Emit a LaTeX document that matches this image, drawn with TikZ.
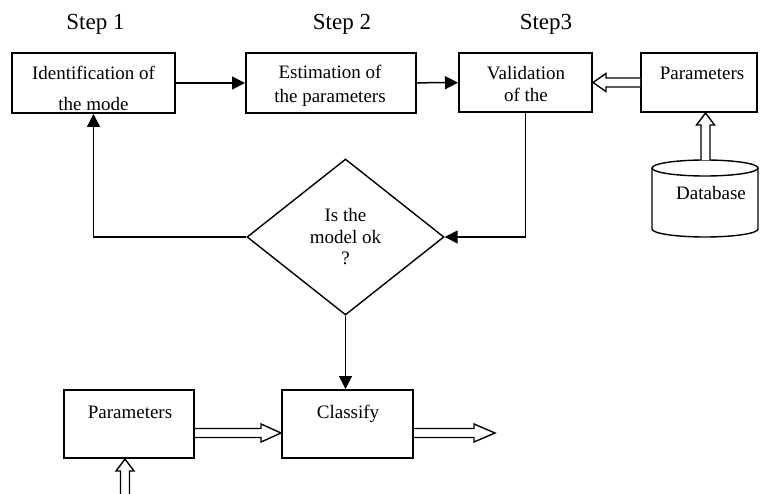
\documentclass[tikz,border=0pt]{standalone}
\usepackage{fontspec}
\setmainfont{Liberation Serif}
\usetikzlibrary{arrows.meta,shapes.geometric,calc}

% Hollow block arrow from #2 (tail) to #3 (tip); #1 = head length
\newcommand\blockarrow[3][14pt]{%
  \coordinate (ba-h) at ($(#3)!#1!(#2)$);
  \draw[hollow] ($(#2)!4.5pt!90:(#3)$) -- ($(ba-h)!4.5pt!90:(#3)$)
    -- ($(ba-h)!9pt!90:(#3)$) -- (#3) -- ($(ba-h)!9pt!-90:(#3)$)
    -- ($(ba-h)!4.5pt!-90:(#3)$) -- ($(#2)!4.5pt!-90:(#3)$);
}

\begin{document}
\begin{tikzpicture}[x=1pt,y=-1pt,
  box/.style={draw, line width=2pt, inner sep=0pt},
  txt/.style={font=\fontsize{19}{22}\selectfont, align=center, anchor=base, inner sep=0pt},
  flow/.style={line width=1.5pt, -{Triangle[length=13pt,width=13pt]}},
  hollow/.style={line width=1.4pt, fill=white, line join=miter},
  steplabel/.style={font=\fontsize{23}{27}\selectfont, anchor=base, inner sep=0pt}]

\useasboundingbox (0,0) rectangle (762,494);

% step headings
\node[steplabel] (s1) at (95.5,30) {Step 1};
\node[steplabel] (s2) at (342,30) {Step 2};
\node[steplabel] (s3) at (546,30) {Step3};

% top row of boxes
\node[box, minimum width=163pt, minimum height=60pt] (b1) at (93.5,83) {};
\node[box, minimum width=170pt, minimum height=60pt] (b2) at (331,83) {};
\node[box, minimum width=133pt, minimum height=59pt] (b3) at (525.5,82.5) {};
\node[box, minimum width=116pt, minimum height=59pt] (b4) at (699,82.5) {};

% multi-line labels are placed by the baseline of their last line
\node[txt, font=\fontsize{19}{31}\selectfont] (t1) at (93.5,111) {Identification of\\the mode};
\node[txt, font=\fontsize{19}{24}\selectfont] (t2) at (330,103) {Estimation of\\the parameters};
\node[txt] (t3) at (526,102) {Validation\\of the};
\node[txt] (t4) at (702,80) {Parameters};

% database cylinder
\draw[line width=1.4pt] (705,168) ellipse [x radius=53pt, y radius=8pt];
\draw[line width=1.4pt] (652,168) -- (652,229)
  arc[start angle=180, end angle=360, x radius=53pt, y radius=8pt] -- (758,168);
\node[txt] (t5) at (711,200) {Database};
\coordinate (db) at (705.5,160);

% decision
\node[diamond, draw, line width=1.4pt, minimum width=197pt, minimum height=156pt,
  aspect=1.26, inner sep=0pt, align=center, font=\fontsize{19}{21.5}\selectfont]
  (d) at (345.5,237) {Is the\\model ok\\?};

% bottom row
\node[box, minimum width=130pt, minimum height=68pt] (p2) at (129,424) {};
\node[box, minimum width=131pt, minimum height=68pt] (cl) at (347.5,424) {};
\node[txt] (t6) at (130,418) {Parameters};
\node[txt] (t7) at (348,418) {Classify};

% solid connectors
\draw[flow] (b1) -- (b2);
\draw[flow] (b2) -- (b3);
\draw[flow] (b3.south) |- (d.east);
\draw[flow] (d.west) -| (b1.south);
\draw[flow] (d.south) -- (d.south |- cl.north);

% hollow connectors
\blockarrow[13pt]{b4.west}{b3.east}
\blockarrow[12pt]{db}{db |- b4.south}
\coordinate (lvl) at (0,433);
\coordinate (out) at (495,433);
\coordinate (pin) at (125,496);
\blockarrow[20pt]{p2.east |- lvl}{cl.west |- lvl}
\blockarrow[21pt]{cl.east |- lvl}{out}
\blockarrow[12pt]{pin}{pin |- p2.south}
\end{tikzpicture}
\end{document}
